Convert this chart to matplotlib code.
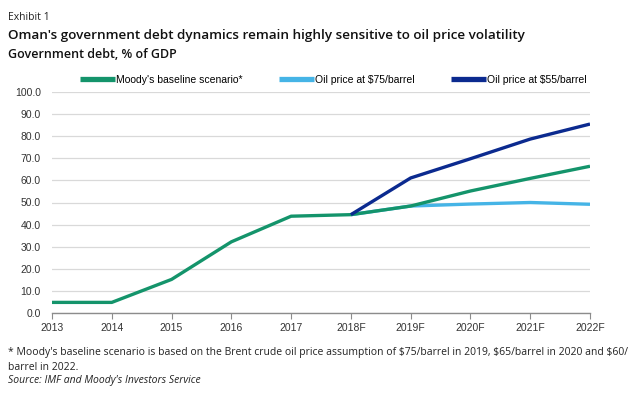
import matplotlib
matplotlib.use("Agg")
import matplotlib.pyplot as plt

years = ["2013", "2014", "2015", "2016", "2017", "2018F", "2019F", "2020F", "2021F", "2022F"]
baseline = [4.8, 4.8, 15.2, 32.2, 43.8, 44.5, 48.4, 55.2, 60.9, 66.4]
oil75_years = ["2018F", "2019F", "2020F", "2021F", "2022F"]
oil75 = [44.5, 48.4, 49.3, 50.0, 49.2]
oil55_years = ["2018F", "2019F", "2020F", "2021F", "2022F"]
oil55 = [44.5, 61.1, 69.8, 78.7, 85.5]
yticks = [0, 10, 20, 30, 40, 50, 60, 70, 80, 90, 100]

W, H = 635, 399
fig = plt.figure(figsize=(W / 100, H / 100), dpi=100)
ax = fig.add_axes([52 / W, 1 - 313 / H, (590 - 52) / W, (313 - 92) / H])

xpos = {y: i for i, y in enumerate(years)}
green = "#14946b"
light = "#45b4e6"
navy = "#0b2a8f"

ax.plot([xpos[y] for y in oil75_years], oil75, color=light, lw=2.4, solid_capstyle="butt", zorder=3,
        label="Oil price at $75/barrel")
ax.plot(range(len(years)), baseline, color=green, lw=2.4, solid_capstyle="butt", zorder=4,
        label="Moody's baseline scenario*")
ax.plot([xpos[y] for y in oil55_years], oil55, color=navy, lw=2.4, solid_capstyle="butt", zorder=5,
        label="Oil price at $55/barrel")

ax.set_xlim(0, len(years) - 1)
ax.set_ylim(0, 100)
ax.set_yticks(yticks)
ax.set_yticklabels([f"{v:.1f}" for v in yticks])
ax.set_xticks(range(len(years)))
ax.set_xticklabels(years)
ax.grid(axis="y", color="#d9d9d9", lw=0.9)
ax.set_axisbelow(True)
for s in ["top", "right", "left"]:
    ax.spines[s].set_visible(False)
ax.spines["bottom"].set_color("#8c8c8c")
ax.spines["bottom"].set_linewidth(1.0)
ax.tick_params(axis="y", length=0, pad=8, labelsize=7.5, labelcolor="#333333")
ax.tick_params(axis="x", length=4, color="#8c8c8c", direction="out", pad=3, labelsize=7.5, labelcolor="#333333")
for lab in ax.get_xticklabels() + ax.get_yticklabels():
    lab.set_family("Liberation Sans")

handles, labels = ax.get_legend_handles_labels()
order = [1, 0, 2]
leg = fig.legend([handles[i] for i in order], [labels[i] for i in order], loc="center",
                 bbox_to_anchor=(333 / W, 1 - 80 / H), ncol=3, frameon=False,
                 handlelength=3.4, handletextpad=0.05, columnspacing=3.5,
                 prop={"family": "Liberation Sans", "size": 7.5})
for line in leg.get_lines():
    line.set_linewidth(3.8)

fig.text(8 / W, 1 - 17 / H, "Exhibit 1", fontsize=7.5, family="Open Sans", color="#222222", va="center")
fig.text(8 / W, 1 - 35 / H, "Oman's government debt dynamics remain highly sensitive to oil price volatility",
         fontsize=9.7, family="Open Sans", weight="semibold", color="#111111", va="center")
fig.text(8 / W, 1 - 54 / H, "Government debt, % of GDP", fontsize=9, family="Open Sans",
         weight="semibold", color="#111111", va="center")

fig.text(8 / W, 1 - 352 / H,
         "* Moody's baseline scenario is based on the Brent crude oil price assumption of $75/barrel in 2019, $65/barrel in 2020 and $60/",
         fontsize=7.5, family="Open Sans", color="#222222", va="center")
fig.text(8 / W, 1 - 367 / H, "barrel in 2022.", fontsize=7.5, family="Open Sans", color="#222222", va="center")
fig.text(8 / W, 1 - 381 / H, "Source: IMF and Moody's Investors Service", fontsize=7.5, family="Open Sans",
         style="italic", color="#222222", va="center")

fig.savefig("out.png", dpi=100)
